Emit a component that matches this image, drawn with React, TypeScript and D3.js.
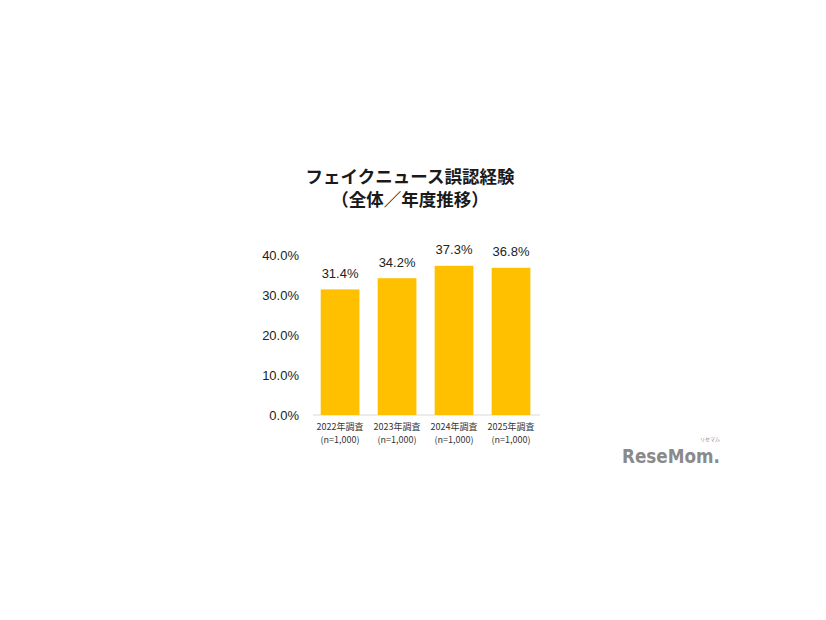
import React from "react";
import * as d3 from "d3";

const categories = ["2022年調査", "2023年調査", "2024年調査", "2025年調査"];
const sampleLabels = ["(n=1,000)", "(n=1,000)", "(n=1,000)", "(n=1,000)"];
const values = [31.4, 34.2, 37.3, 36.8];
const yTicks = [0, 10, 20, 30, 40];
const titleLines = ["フェイクニュース誤認経験", "（全体／年度推移）"];

const W = 826;
const H = 620;

export default function App() {
  const x = d3.scaleBand<string>().domain(categories).range([311.6, 539.5]).paddingInner(0.32).paddingOuter(0.16);
  const y = d3.scaleLinear().domain([0, 40]).range([415, 255]);
  const font = "'Noto Sans CJK JP', 'Noto Sans', sans-serif";
  const num = "'Liberation Sans', 'DejaVu Sans', sans-serif";
  return (
    <svg width={W} height={H} style={{ position: "absolute", left: 0, top: 0, background: "#fff" }} fontFamily={font}>
      <rect width={W} height={H} fill="#fff" />
      {titleLines.map((t, i) => (
        <text key={i} x={410} y={183 + i * 23} textAnchor="middle" fontSize={17.5} fontWeight="bold" fill="#1a1a1a">
          {t}
        </text>
      ))}
      {yTicks.map((t) => (
        <text key={t} x={299} y={y(t)} dy="0.35em" textAnchor="end" fontSize={13} fill="#222" fontFamily={num}>
          {t.toFixed(1)}%
        </text>
      ))}
      <line x1={313} x2={540} y1={y(0)} y2={y(0)} stroke="#d9d9d9" strokeWidth={1} />
      {values.map((v, i) => (
        <g key={i}>
          <rect x={x(categories[i])} y={y(v)} width={x.bandwidth()} height={y(0) - y(v)} fill="#FFC000" />
          <text x={(x(categories[i]) as number) + x.bandwidth() / 2} y={y(v) - 16} dy="0.35em" textAnchor="middle" fontSize={13} fill="#222" fontFamily={num}>
            {v.toFixed(1)}%
          </text>
          <text x={(x(categories[i]) as number) + x.bandwidth() / 2} y={427} dy="0.35em" textAnchor="middle" fontSize={9} fill="#333">
            {categories[i]}
          </text>
          <text x={(x(categories[i]) as number) + x.bandwidth() / 2} y={440} dy="0.35em" textAnchor="middle" fontSize={9} fill="#333">
            {sampleLabels[i]}
          </text>
        </g>
      ))}
      <text x={622} y={463} fontSize={20} fontWeight="bold" fill="#8a8a8a" fontFamily="'DejaVu Sans', sans-serif" textLength={98} lengthAdjust="spacingAndGlyphs">
        ReseMom.
      </text>
      <text x={700} y={441} fontSize={5} fill="#8a8a8a">リセマム</text>
    </svg>
  );
}
